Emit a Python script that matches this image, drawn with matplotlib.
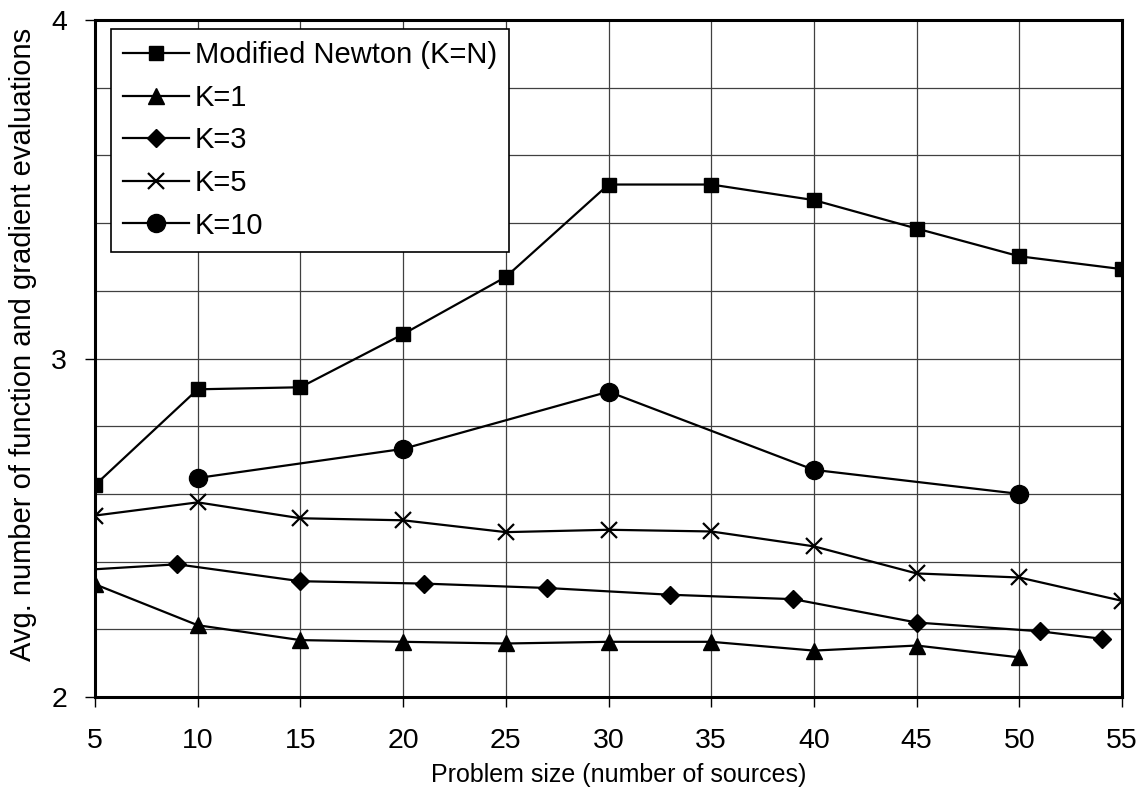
import matplotlib
matplotlib.use("Agg")
import matplotlib.pyplot as plt
from matplotlib.ticker import MultipleLocator

plt.rcParams['font.family'] = ['Liberation Sans', 'DejaVu Sans']

# data
x_newton = [5, 10, 15, 20, 25, 30, 35, 40, 45, 50, 55]
y_newton = [2.626, 2.909, 2.915, 3.072, 3.241, 3.514, 3.514, 3.468, 3.384, 3.302, 3.264]

x_k1 = [5, 10, 15, 20, 25, 30, 35, 40, 45, 50]
y_k1 = [2.333, 2.212, 2.168, 2.163, 2.158, 2.163, 2.163, 2.137, 2.152, 2.117]

x_k3 = [3, 9, 15, 21, 27, 33, 39, 45, 51, 54]
y_k3 = [2.370, 2.392, 2.342, 2.335, 2.322, 2.302, 2.289, 2.220, 2.194, 2.172]

x_k5 = [5, 10, 15, 20, 25, 30, 35, 40, 45, 50, 55]
y_k5 = [2.536, 2.575, 2.528, 2.522, 2.487, 2.494, 2.489, 2.445, 2.365, 2.353, 2.284]

x_k10 = [10, 20, 30, 40, 50]
y_k10 = [2.647, 2.733, 2.902, 2.671, 2.600]

labels = ['Modified Newton (K=N)', 'K=1', 'K=3', 'K=5', 'K=10']

fig = plt.figure(figsize=(11.46, 7.95), dpi=100)
ax = fig.add_axes([0.0829, 0.1233, 0.8962, 0.8515])

lw = 1.6
ax.plot(x_newton, y_newton, color='black', lw=lw, marker='s', ms=10, label=labels[0])
ax.plot(x_k1, y_k1, color='black', lw=lw, marker='^', ms=12, label=labels[1])
ax.plot(x_k3, y_k3, color='black', lw=lw, marker='D', ms=9, label=labels[2])
ax.plot(x_k5, y_k5, color='black', lw=lw, marker='x', ms=11, mew=1.6, label=labels[3])
ax.plot(x_k10, y_k10, color='black', lw=lw, marker='o', ms=13, label=labels[4])

ax.set_xlim(5, 55)
ax.set_ylim(2, 4)
ax.xaxis.set_major_locator(MultipleLocator(5))
ax.yaxis.set_major_locator(MultipleLocator(1))
ax.yaxis.set_minor_locator(MultipleLocator(0.2))
ax.grid(True, which='both', color='#404040', lw=0.9)
ax.set_axisbelow(True)
ax.tick_params(axis='both', which='major', direction='out', length=7.2, width=1.0,
               labelsize=20.5, colors='black')
ax.tick_params(axis='y', which='minor', length=0)
ax.tick_params(axis='x', pad=15)
ax.tick_params(axis='y', pad=13)
for s in ax.spines.values():
    s.set_linewidth(2.2)
    s.set_color('black')

ax.set_xlabel('Problem size (number of sources)', fontsize=18)
ax.xaxis.set_label_coords(0.51, -0.098)
ax.set_ylabel('Avg. number of function and gradient evaluations', fontsize=21)
ax.yaxis.set_label_coords(-0.056, 0.5207)

leg = ax.legend(loc='upper left', bbox_to_anchor=(0.0153, 0.9867), borderaxespad=0,
                fontsize=21, frameon=True, fancybox=False, edgecolor='black',
                framealpha=1, handlelength=2.26, handletextpad=0.2, labelspacing=0.5,
                borderpad=0.42)
leg.get_frame().set_linewidth(1.2)

fig.savefig('out.png', dpi=100)
